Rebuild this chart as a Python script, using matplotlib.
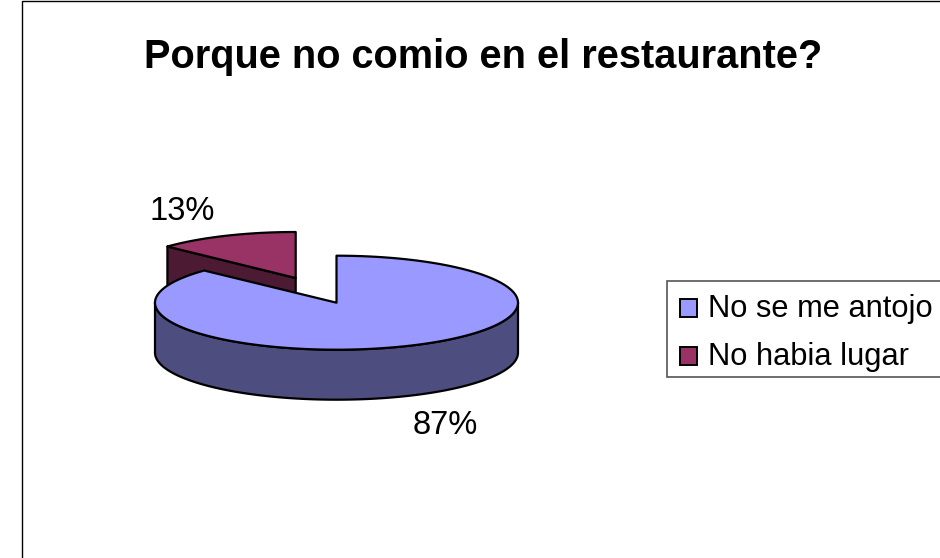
import numpy as np
import matplotlib
matplotlib.use("Agg")
import matplotlib.pyplot as plt
from matplotlib.patches import Polygon, Rectangle

categories = ['No se me antojo', 'No habia lugar']
values = [87, 13]
title = 'Porque no comio en el restaurante?'

top_colors = ['#9999FF', '#993366']
side_colors = ['#4D4D80', '#4D1A33']

plt.rcParams['font.family'] = ['Liberation Sans', 'DejaVu Sans']


def ellipse_pts(cx, cy, rx, ry, start, end, n=120):
    # angles in radians, clockwise from 12 o'clock
    t = np.linspace(start, end, n)
    return np.column_stack([cx + rx * np.sin(t), cy - ry * np.cos(t)])


fig = plt.figure(figsize=(9.4, 5.58), dpi=100)
ax = fig.add_axes([0, 0, 1, 1])
ax.set_xlim(0, 940)
ax.set_ylim(558, 0)
ax.axis('off')

# chart frame
ax.add_patch(Rectangle((22, 0.5), 940, 600, fc='white', ec='black', lw=1))

angles = np.cumsum([0] + values) / sum(values) * 2 * np.pi
depth = 50
lw = 1.6

# exploded small slice goes behind the big one
a0, a1 = angles[1], angles[2]
cx, cy, rx, ry = 295.7, 278, 176, 46
arc = ellipse_pts(cx, cy, rx, ry, a0, a1)
wall = np.array([arc[0], [cx, cy], [cx, cy + depth], arc[0] + [0, depth]])
ax.add_patch(Polygon(wall, fc=side_colors[1], ec='black', lw=lw, joinstyle='round'))
ax.add_patch(Polygon(np.vstack([[cx, cy], arc]), fc=top_colors[1], ec='black', lw=lw,
                     joinstyle='round'))

# big slice
a0, a1 = angles[0], angles[1]
cx, cy, rx, ry = 336.5, 302.7, 181.5, 47
front = ellipse_pts(cx, cy, rx, ry, np.pi / 2, 3 * np.pi / 2)
side = np.vstack([front, (front + [0, depth])[::-1]])
ax.add_patch(Polygon(side, fc=side_colors[0], ec='black', lw=lw, joinstyle='round'))
arc = ellipse_pts(cx, cy, rx, ry, a0, a1, n=300)
ax.add_patch(Polygon(np.vstack([[cx, cy], arc]), fc=top_colors[0], ec='black', lw=lw,
                     joinstyle='round'))

ax.text(483.5, 57, title, fontsize=28.6, fontweight='bold', ha='center', va='center')
ax.text(445.5, 426, f'{values[0]}%', fontsize=23.5, ha='center', va='center')
ax.text(182.5, 212, f'{values[1]}%', fontsize=23.5, ha='center', va='center')

# legend
ax.add_patch(Rectangle((667, 280.5), 300, 96, fc='white', ec='#555555', lw=1.2))
for i, name in enumerate(categories):
    y = 308 + i * 48
    ax.add_patch(Rectangle((679.5, y - 9), 17, 18, fc=top_colors[i], ec='black', lw=1.4))
    ax.text(708, y + 1, name, fontsize=22.2, ha='left', va='center')

fig.savefig('out.png', dpi=100)
